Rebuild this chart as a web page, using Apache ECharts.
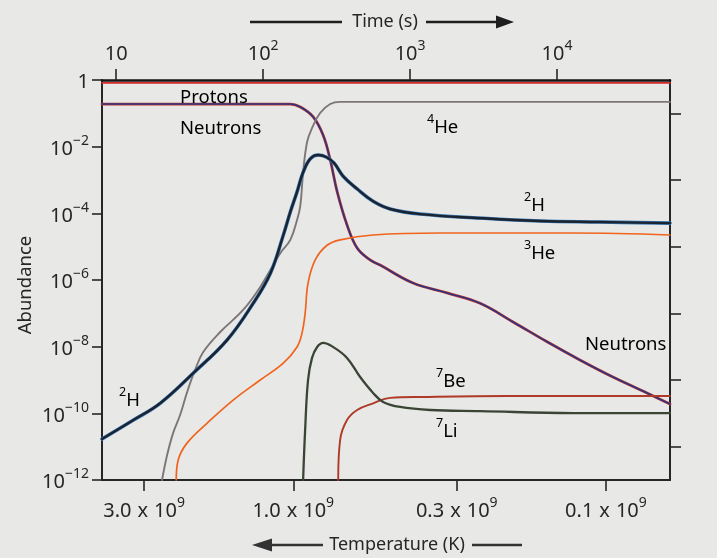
<!DOCTYPE html>
<html>
<head>
<meta charset="utf-8">
<script src="https://cdn.jsdelivr.net/npm/echarts@6/dist/echarts.min.js"></script>
<style>
  html, body { margin: 0; padding: 0; background: #e8e8e6; }
  #chart { width: 717px; height: 558px; }
</style>
</head>
<body>
<div id="chart"></div>
<script>
// Light-element abundances (mass fraction) against time since the Big Bang, in seconds.
const protons = [[8, 0.82], [58700, 0.82]];

const neutrons = [
  [8, 0.19], [153, 0.19], [179, 0.155], [219, 0.078], [256, 0.022], [286, 4.0e-3],
  [319, 4.4e-4], [372, 4.5e-5], [436, 9.1e-6], [534, 4.0e-6], [625, 2.8e-6],
  [1047, 8.1e-7], [1785, 4.1e-7], [2992, 2.0e-7], [5020, 5.5e-8], [8550, 1.4e-8],
  [14300, 4.0e-9], [24000, 1.23e-9], [40900, 4.1e-10], [58700, 1.9e-10]
];

const helium4 = [
  [20.5, 1e-12], [22.2, 5.6e-12], [24.4, 2.6e-11], [27.2, 8.9e-11], [30.4, 4.4e-10],
  [34.4, 2.0e-9], [39.1, 6.9e-9], [51, 2.75e-8], [73, 1.26e-7], [95.5, 6.2e-7],
  [131, 6.5e-6], [153, 1.6e-5], [170, 6.3e-5], [179, 1.7e-4], [187, 1.7e-3],
  [199, 0.0138], [215, 0.036], [244, 0.102], [286, 0.19], [334, 0.22], [58700, 0.22]
];

const deuterium = [
  [8, 1.7e-11], [13.1, 6.3e-11], [19.9, 2.0e-10], [33.4, 1.6e-9], [56.9, 1.6e-8],
  [85.5, 2.0e-7], [112, 1.6e-6], [137, 2.2e-5], [153, 1.1e-4], [170, 4.4e-4],
  [187, 1.7e-3], [209, 4.3e-3], [237, 5.6e-3], [268, 4.9e-3], [304, 3.2e-3],
  [350, 1.3e-3], [436, 5.4e-4], [560, 2.3e-4], [731, 1.35e-4], [1170, 9.5e-5],
  [2990, 7.2e-5], [7650, 5.9e-5], [19600, 5.5e-5], [58700, 5.1e-5]
];

const helium3 = [
  [25.6, 1e-12], [26.4, 4.0e-12], [30.4, 1.3e-11], [41.6, 5.1e-11], [62.5, 2.5e-10],
  [95.5, 1.0e-9], [137, 3.2e-9], [170, 9.8e-9], [184, 2.6e-8], [193, 1.0e-7],
  [202, 8.1e-7], [226, 4.0e-6], [272, 1.1e-5], [334, 1.6e-5], [560, 2.24e-5],
  [1600, 2.57e-5], [12900, 2.57e-5], [58700, 2.24e-5]
];

const lithium7 = [
  [187, 1e-12], [193, 3.2e-11], [202, 1e-9], [215, 4.6e-9], [233, 9.8e-9],
  [256, 1.3e-8], [299, 9.8e-9], [372, 4.6e-9], [457, 1.23e-9], [560, 4.1e-10],
  [655, 2.2e-10], [855, 1.55e-10], [1370, 1.26e-10], [2990, 1.17e-10],
  [12900, 1.02e-10], [58700, 1.02e-10]
];

const beryllium7 = [
  [324, 1e-12], [334, 1.6e-11], [372, 6.3e-11], [436, 1.26e-10], [560, 2.0e-10],
  [731, 2.9e-10], [1225, 3.1e-10], [4570, 3.3e-10], [58700, 3.3e-10]
];

// Axis ranges and tick values
const timeRange = [8, 58700];
const timeTicks = [10, 100, 1000, 10000];
const temperatureRange = [6.24e7, 4.09e9];
const temperatureTicks = [3.0e9, 1.0e9, 0.3e9, 0.1e9];
const temperatureTickLabels = ['3.0', '1.0', '0.3', '0.1'];
const abundanceRange = [1e-12, 1];
const abundanceTicks = [1, 1e-2, 1e-4, 1e-6, 1e-8, 1e-10, 1e-12];
const abundanceOddTicks = [1e-1, 1e-3, 1e-5, 1e-7, 1e-9, 1e-11];

const FONT = '"Noto Sans", "DejaVu Sans", sans-serif';
const INK = '#262626';

const tickRich = {
  b: { fontFamily: FONT, fontSize: 20, color: INK, lineHeight: 25, verticalAlign: 'bottom' },
  x: { fontFamily: FONT, fontSize: 20, color: INK, lineHeight: 25, verticalAlign: 'bottom', padding: [0, 6, 0, 6] },
  s: { fontFamily: FONT, fontSize: 14, color: INK, lineHeight: 15, verticalAlign: 'top' }
};
const noteRich = {
  b: { fontFamily: FONT, fontSize: 18.5, color: INK, lineHeight: 24, verticalAlign: 'bottom' },
  s: { fontFamily: FONT, fontSize: 12.5, color: INK, lineHeight: 14, verticalAlign: 'top' }
};

const expOf = v => Math.round(Math.log10(v));

function timeLabel(v) {
  const e = expOf(v);
  return e === 1 ? '{b|10}' : '{b|10}{s|' + e + '}';
}
function abundanceLabel(v) {
  const e = expOf(v);
  return e === 0 ? '{b|1}' : '{b|10}{s|\u2212' + (-e) + '}';
}
function temperatureLabel(v) {
  let k = 0;
  temperatureTicks.forEach((t, i) => { if (Math.abs(t - v) < Math.abs(temperatureTicks[k] - v)) k = i; });
  return '{b|' + temperatureTickLabels[k] + '}{x|x}{b|10}{s|9}';
}

function curve(name, data, color, width, z) {
  return {
    name, type: 'line', data, xAxisIndex: 0, yAxisIndex: 0,
    showSymbol: false, symbol: 'none', smooth: 0.4,
    lineStyle: { color, width, cap: 'round', join: 'round' },
    z: z || 2, clip: true, silent: true
  };
}

function note(text, x, y) {
  return { type: 'text', x, y, z: 10, style: { text, rich: noteRich, align: 'left', verticalAlign: 'middle' } };
}

const chart = echarts.init(document.getElementById('chart'), null, { renderer: 'canvas' });

chart.setOption({
  animation: false,
  backgroundColor: '#e8e8e6',
  grid: { left: 102, right: 47, top: 80, bottom: 78, containLabel: false },
  xAxis: [
    {
      type: 'log', logBase: 10, position: 'top', min: timeRange[0], max: timeRange[1],
      axisLine: { show: true, lineStyle: { color: '#151515', width: 2.6 } },
      axisTick: { show: true, length: 11, customValues: timeTicks, lineStyle: { color: INK, width: 1.6 } },
      axisLabel: { customValues: timeTicks, formatter: timeLabel, rich: tickRich, margin: 16 },
      splitLine: { show: false }, minorTick: { show: false }
    },
    {
      type: 'log', logBase: 10, position: 'bottom', inverse: true,
      min: temperatureRange[0], max: temperatureRange[1],
      axisLine: { show: true, lineStyle: { color: INK, width: 2 } },
      axisTick: { show: true, length: 11, customValues: temperatureTicks, lineStyle: { color: INK, width: 1.6 } },
      axisLabel: { customValues: temperatureTicks, formatter: temperatureLabel, rich: tickRich, margin: 16 },
      splitLine: { show: false }, minorTick: { show: false }
    }
  ],
  yAxis: [
    {
      type: 'log', logBase: 10, position: 'left', min: abundanceRange[0], max: abundanceRange[1],
      axisLine: { show: true, lineStyle: { color: INK, width: 2 } },
      axisTick: { show: true, length: 10, customValues: abundanceTicks, lineStyle: { color: INK, width: 1.6 } },
      axisLabel: { customValues: abundanceTicks, formatter: abundanceLabel, rich: tickRich, margin: 13 },
      splitLine: { show: false }, minorTick: { show: false }
    },
    {
      type: 'log', logBase: 10, position: 'right', min: abundanceRange[0], max: abundanceRange[1],
      axisLine: { show: true, lineStyle: { color: INK, width: 2 } },
      axisTick: { show: true, length: 11, customValues: abundanceOddTicks, lineStyle: { color: INK, width: 1.6 } },
      axisLabel: { show: false },
      splitLine: { show: false }, minorTick: { show: false }
    }
  ],
  series: [
    curve('Protons', protons, '#d42a2a', 1.8, 2),
    curve('Neutrons', neutrons, '#c3352c', 2.8, 2),
    curve('Neutrons', neutrons, '#2c3580', 1.6, 3),
    curve('4He', helium4, '#7d7676', 1.9, 3),
    curve('3He', helium3, '#f0641e', 1.7, 3),
    curve('7Be', beryllium7, '#b03a28', 1.9, 3),
    curve('7Li', lithium7, '#3a4536', 2.3, 3),
    curve('2H', deuterium, '#3a78b8', 3.6, 4),
    curve('2H', deuterium, '#1b242e', 2.4, 5)
  ],
  graphic: [
    // species labels
    note('{b|Protons}', 180, 95),
    note('{b|Neutrons}', 180, 126),
    note('{s|4}{b|He}', 427, 125),
    note('{s|2}{b|H}', 524, 203),
    note('{s|3}{b|He}', 524, 251),
    note('{b|Neutrons}', 585, 342),
    note('{s|7}{b|Be}', 436, 379),
    note('{s|7}{b|Li}', 436, 429),
    note('{s|2}{b|H}', 119, 398),
    // time arrow along the top
    { type: 'line', z: 10, shape: { x1: 250, y1: 22, x2: 342, y2: 22 }, style: { stroke: '#1e1e1e', lineWidth: 2.5 } },
    { type: 'text', z: 10, x: 385, y: 22, style: { text: 'Time (s)', font: '18px ' + FONT, fill: INK, align: 'center', verticalAlign: 'middle' } },
    { type: 'line', z: 10, shape: { x1: 426, y1: 22, x2: 500, y2: 22 }, style: { stroke: '#1e1e1e', lineWidth: 2.5 } },
    { type: 'polygon', z: 10, shape: { points: [[496, 15.5], [514, 22], [496, 28.5]] }, style: { fill: '#1e1e1e' } },
    // temperature arrow along the bottom
    { type: 'polygon', z: 10, shape: { points: [[252, 545], [272, 538.5], [272, 551.5]] }, style: { fill: '#333' } },
    { type: 'line', z: 10, shape: { x1: 270, y1: 545, x2: 323, y2: 545 }, style: { stroke: '#333', lineWidth: 2.5 } },
    { type: 'text', z: 10, x: 397, y: 545, style: { text: 'Temperature (K)', font: '18px ' + FONT, fill: INK, align: 'center', verticalAlign: 'middle' } },
    { type: 'line', z: 10, shape: { x1: 472, y1: 545, x2: 522, y2: 545 }, style: { stroke: '#333', lineWidth: 2.5 } },
    // vertical axis title
    { type: 'text', z: 10, x: 26, y: 285, rotation: Math.PI / 2, style: { text: 'Abundance', font: '18.5px ' + FONT, fill: INK, align: 'center', verticalAlign: 'middle' } }
  ]
});
</script>
</body>
</html>
